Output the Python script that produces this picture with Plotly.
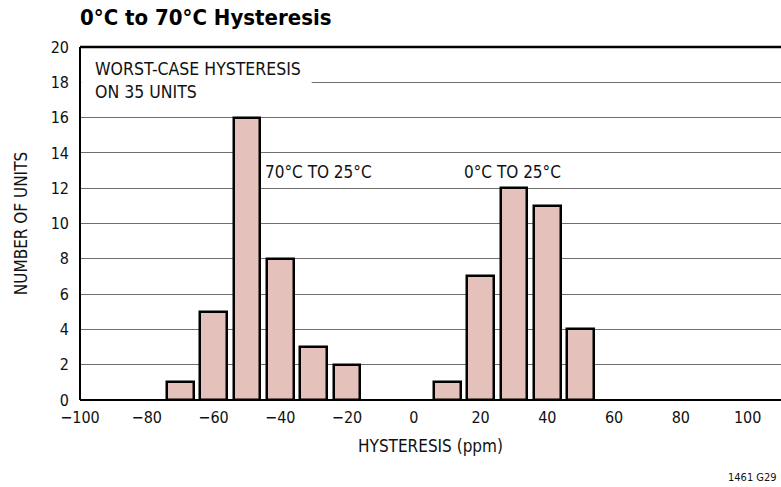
import plotly.graph_objects as go

# Data
hysteresis_ppm = [-70, -60, -50, -40, -30, -20, 10, 20, 30, 40, 50]
num_units = [1, 5, 16, 8, 3, 2, 1, 7, 12, 11, 4]
x_tick_vals = [-100, -80, -60, -40, -20, 0, 20, 40, 60, 80, 100]
x_tick_text = ["\u2212100", "\u221280", "\u221260", "\u221240", "\u221220", "0", "20", "40", "60", "80", "100"]
y_tick_vals = [0, 2, 4, 6, 8, 10, 12, 14, 16, 18, 20]

FONT = "Liberation Sans Narrow, DejaVu Sans Condensed, Arial Narrow, sans-serif"

fig = go.Figure()
fig.add_trace(go.Bar(
    x=hysteresis_ppm, y=num_units, width=8,
    marker=dict(color="#e4c1bb", line=dict(color="black", width=2.5)),
    showlegend=False,
))

fig.update_layout(
    width=781, height=487,
    margin=dict(l=80, r=0, t=47, b=87),
    paper_bgcolor="white", plot_bgcolor="white",
    font=dict(family=FONT, size=16, color="#111"),
    bargap=0,
    xaxis=dict(range=[-100, 110], tickvals=x_tick_vals, ticktext=x_tick_text,
               showgrid=False, zeroline=False, showline=False, ticks="",
               tickfont=dict(size=16), ticklabelstandoff=6,
               title=dict(text="HYSTERESIS (ppm)", font=dict(size=17), standoff=14)),
    yaxis=dict(range=[0, 20], tickvals=y_tick_vals, showgrid=True,
               gridcolor="#6f6f6f", gridwidth=1.2, zeroline=False, showline=False,
               ticks="", tickfont=dict(size=16), ticklabelstandoff=10,
               title=dict(text="NUMBER OF UNITS", font=dict(size=17), standoff=18)),
)

# Frame lines: left, bottom, top
fig.add_shape(type="line", xref="paper", yref="paper", x0=0, x1=0, y0=0, y1=1,
              line=dict(color="black", width=2))
fig.add_shape(type="line", xref="paper", yref="paper", x0=0, x1=1, y0=0, y1=0,
              line=dict(color="black", width=2))
fig.add_shape(type="line", xref="paper", yref="paper", x0=0, x1=1, y0=1, y1=1,
              line=dict(color="black", width=2.5))

# White box behind legend text (covers the 18 grid line on the left)
fig.add_shape(type="rect", xref="x", yref="y", x0=-99.6, x1=-30.6, y0=16.8, y1=19.6,
              line=dict(width=0), fillcolor="white", layer="above")

fig.add_annotation(xref="paper", yref="y", x=0.019, y=18.1, xanchor="left", yanchor="middle",
                   text="WORST-CASE HYSTERESIS<br>ON 35 UNITS", showarrow=False, align="left",
                   font=dict(size=17.5))
fig.add_annotation(xref="x", yref="y", x=-45.3, y=12.93, xanchor="left", yanchor="middle",
                   text="70°C TO 25°C", showarrow=False, font=dict(size=17))
fig.add_annotation(xref="x", yref="y", x=14.4, y=12.93, xanchor="left", yanchor="middle",
                   text="0°C TO 25°C", showarrow=False, font=dict(size=17))

fig.add_annotation(xref="paper", yref="paper", x=0, y=1, xanchor="left", yanchor="middle",
                   yshift=30, xshift=-2, text="<b>0°C to 70°C Hysteresis</b>", showarrow=False,
                   font=dict(size=22, color="black"))
fig.add_annotation(xref="paper", yref="paper", x=1, y=0, xanchor="right", yanchor="middle",
                   xshift=-2, yshift=-77, text="1461 G29", showarrow=False,
                   font=dict(size=11))

fig.write_html("out.html", config={"displayModeBar": False},
               post_script="document.body.style.margin='0';document.body.style.padding='0';")
